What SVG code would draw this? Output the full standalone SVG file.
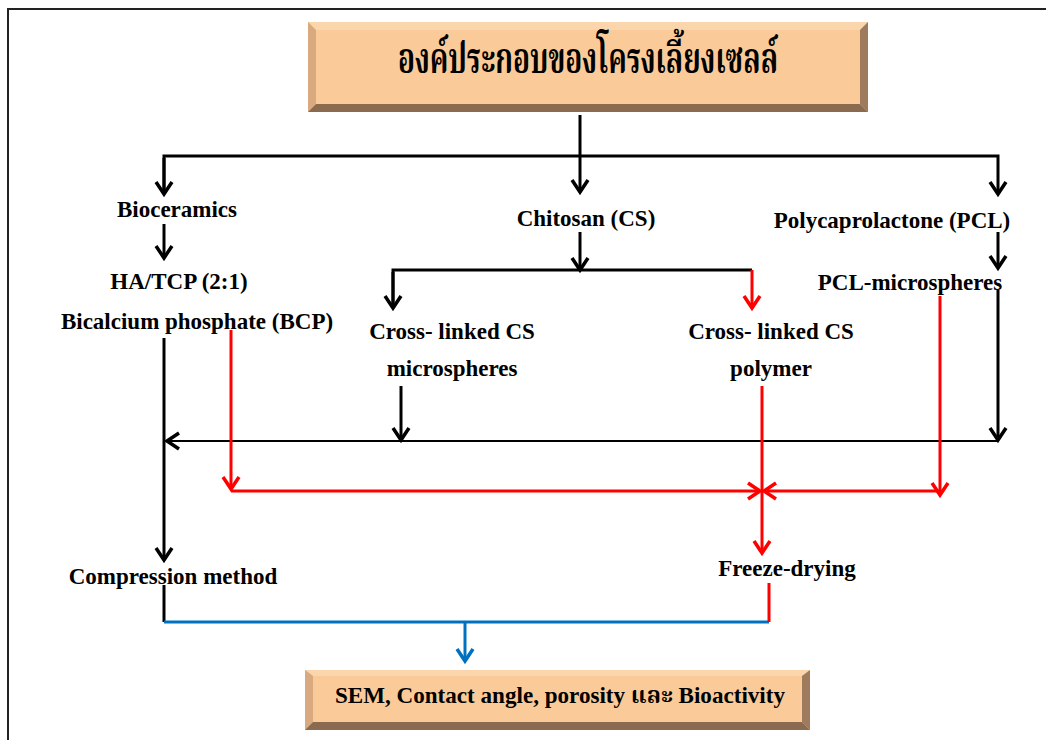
<svg xmlns="http://www.w3.org/2000/svg" width="1046" height="740" viewBox="0 0 1046 740">
<style>
.t{font-family:'Liberation Serif','Times New Roman',serif;font-weight:bold;font-size:23px;fill:#000;text-anchor:middle}
.th{font-family:'Liberation Serif','Noto Serif Thai','Noto Sans Thai',serif;font-weight:bold;fill:#000;text-anchor:middle}
.k{stroke:#000;stroke-width:3;fill:none}
.kt{stroke:#000;stroke-width:2;fill:none}
.r{stroke:#FF0000;stroke-width:3;fill:none}
.b{stroke:#0070C0;stroke-width:3;fill:none}
</style>
<defs>
<marker id="ak" viewBox="-12 -12 24 24" markerWidth="24" markerHeight="24" markerUnits="userSpaceOnUse" refX="0" refY="0" orient="auto" overflow="visible"><path d="M-12,-8 L0,0 L-12,8" fill="none" stroke="#000" stroke-width="3.5"/></marker>
<marker id="ar" viewBox="-12 -12 24 24" markerWidth="24" markerHeight="24" markerUnits="userSpaceOnUse" refX="0" refY="0" orient="auto" overflow="visible"><path d="M-12,-8 L0,0 L-12,8" fill="none" stroke="#FF0000" stroke-width="3.5"/></marker>
<marker id="ab" viewBox="-12 -12 24 24" markerWidth="24" markerHeight="24" markerUnits="userSpaceOnUse" refX="0" refY="0" orient="auto" overflow="visible"><path d="M-12,-8 L0,0 L-12,8" fill="none" stroke="#0070C0" stroke-width="3.5"/></marker>
</defs>
<rect width="1046" height="740" fill="#fff"/>
<path d="M8,745 L8,9 L1050,9" fill="none" stroke="#222" stroke-width="2"/>

<g id="title">
<rect x="308" y="22" width="560" height="90" fill="#FACB99"/>
<polygon points="308,22 868,22 860,30 316,30" fill="#FBD5AC"/>
<polygon points="308,22 316,30 316,104 308,112" fill="#D9A97F"/>
<polygon points="868,22 868,112 860,104 860,30" fill="#9E7B5C"/>
<polygon points="308,112 316,104 860,104 868,112" fill="#8B6B50"/>
<text class="th" x="588" y="73" font-size="42" textLength="380" lengthAdjust="spacingAndGlyphs">องค์ประกอบของโครงเลี้ยงเซลล์</text>
</g>

<g id="result">
<rect x="305" y="670" width="505" height="60" fill="#FACB99"/>
<polygon points="305,670 810,670 802,676 313,676" fill="#FBD5AC"/>
<polygon points="305,670 313,676 313,722 305,730" fill="#D9A97F"/>
<polygon points="810,670 810,730 802,722 802,676" fill="#9E7B5C"/>
<polygon points="305,730 313,722 802,722 810,730" fill="#8B6B50"/>
<text class="th" x="560" y="703" font-size="23" textLength="450" lengthAdjust="spacingAndGlyphs">SEM, Contact angle, porosity และ Bioactivity</text>
</g>

<g id="bioceramics"><text class="t" x="177" y="217">Bioceramics</text></g>
<g id="hatcp"><text class="t" x="179" y="289">HA/TCP (2:1)</text></g>
<g id="bcp"><text class="t" x="197" y="329">Bicalcium phosphate (BCP)</text></g>
<g id="chitosan"><text class="t" x="586" y="226">Chitosan (CS)</text></g>
<g id="pcl"><text class="t" x="892" y="228">Polycaprolactone (PCL)</text></g>
<g id="pclmicro"><text class="t" x="910" y="290">PCL-microspheres</text></g>
<g id="csmicro"><text class="t" x="452" y="339">Cross- linked CS</text><text class="t" x="452" y="376">microspheres</text></g>
<g id="cspoly"><text class="t" x="771" y="339">Cross- linked CS</text><text class="t" x="771" y="376">polymer</text></g>
<g id="compression"><text class="t" x="173" y="584">Compression method</text></g>
<g id="freeze"><text class="t" x="787" y="576">Freeze-drying</text></g>

<g id="connectors">
<path class="k" d="M580,115 V192" marker-end="url(#ak)"/>
<path class="k" d="M164,194 V156 H998 V194" marker-end="url(#ak)"/>
<path class="k" d="M164,158 V194" marker-end="url(#ak)"/>
<path class="k" d="M164,224 V258" marker-end="url(#ak)"/>
<path class="k" d="M580,232 V270" marker-end="url(#ak)"/>
<path class="k" d="M393,308 V270 H752"/>
<path class="k" d="M393,272 V308" marker-end="url(#ak)"/>
<path class="r" d="M752,270 V308" marker-end="url(#ar)"/>
<path class="k" d="M998,232 V268" marker-end="url(#ak)"/>
<path class="k" d="M998,290 V440" marker-end="url(#ak)"/>
<path class="kt" d="M998,441 H167" marker-end="url(#ak)"/>
<path class="k" d="M401,386 V440" marker-end="url(#ak)"/>
<path class="k" d="M164,338 V560" marker-end="url(#ak)"/>
<path class="k" d="M164,585 V622"/>
<path class="b" d="M164,622 H769"/>
<path class="r" d="M769,583 V622"/>
<path class="b" d="M465,622 V661" marker-end="url(#ab)"/>
<path class="r" d="M231,330 V489" marker-end="url(#ar)"/>
<path class="r" d="M231,491 H760" marker-end="url(#ar)"/>
<path class="r" d="M940,491 H764" marker-end="url(#ar)"/>
<path class="r" d="M940,296 V495" marker-end="url(#ar)"/>
<path class="r" d="M762,386 V553" marker-end="url(#ar)"/>
</g>
</svg>
